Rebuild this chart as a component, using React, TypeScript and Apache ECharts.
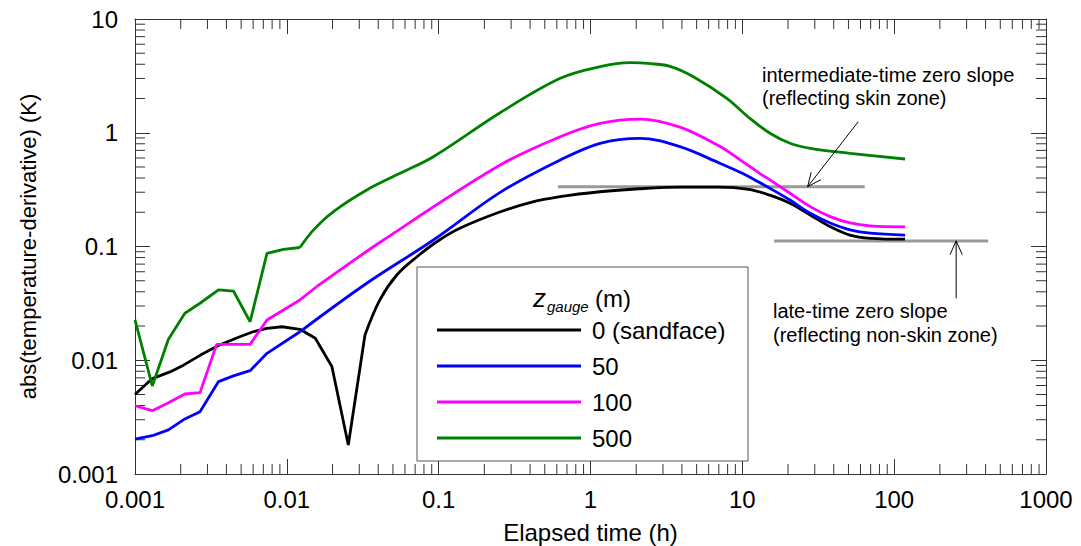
import React, { useEffect, useRef } from "react";
import * as echarts from "echarts";

// ---- data ----
const xTickLabels = ["0.001", "0.01", "0.1", "1", "10", "100", "1000"];
const yTickLabels = ["0.001", "0.01", "0.1", "1", "10"];
const seriesNames = ["0 (sandface)", "50", "100", "500"];

const t0 = [0.001, 0.0013, 0.0017, 0.0021, 0.0027, 0.0036, 0.0049, 0.006, 0.0074, 0.0093, 0.0122, 0.0154, 0.0198, 0.0254, 0.0327, 0.041, 0.053, 0.072, 0.1, 0.14, 0.25, 0.4, 0.63, 1.15, 2.1, 4, 7, 11, 15, 20.6, 28, 38, 51, 70, 118];
const v0 = [0.005, 0.0069, 0.0079, 0.0091, 0.0111, 0.0136, 0.0161, 0.0178, 0.0191, 0.0197, 0.0187, 0.0156, 0.0088, 0.0018, 0.0167, 0.0339, 0.0562, 0.0813, 0.113, 0.146, 0.2, 0.243, 0.274, 0.303, 0.322, 0.333, 0.333, 0.318, 0.284, 0.24, 0.189, 0.149, 0.126, 0.118, 0.116];

const t50 = [0.001, 0.0013, 0.00166, 0.00213, 0.00268, 0.00355, 0.00445, 0.00573, 0.0074, 0.0122, 0.0336, 0.0923, 0.254, 0.632, 1.156, 2.12, 3.88, 7.1, 10, 13, 15.2, 20.6, 28, 37.9, 51.3, 69.5, 118];
const v50 = [0.00203, 0.00217, 0.00244, 0.00305, 0.00353, 0.00649, 0.00728, 0.0081, 0.0115, 0.0178, 0.0475, 0.114, 0.299, 0.576, 0.808, 0.894, 0.755, 0.54, 0.44, 0.365, 0.325, 0.256, 0.196, 0.161, 0.14, 0.131, 0.126];

const t100 = [0.001, 0.0013, 0.00166, 0.00213, 0.00268, 0.00345, 0.00445, 0.00573, 0.0074, 0.0122, 0.0157, 0.0433, 0.254, 0.632, 1.156, 2.12, 3.88, 7.1, 10, 13, 15.2, 20.6, 28, 37.9, 51.3, 69.5, 118];
const v100 = [0.00398, 0.0036, 0.00424, 0.00505, 0.00519, 0.0138, 0.0138, 0.0138, 0.0226, 0.0339, 0.0443, 0.114, 0.52, 0.923, 1.21, 1.32, 1.12, 0.76, 0.56, 0.44, 0.385, 0.294, 0.224, 0.183, 0.161, 0.152, 0.149];

const t500 = [0.001, 0.0013, 0.00166, 0.00213, 0.00268, 0.00355, 0.00445, 0.00573, 0.0074, 0.0095, 0.0122, 0.015, 0.0202, 0.0336, 0.0557, 0.0923, 0.254, 0.632, 1.156, 1.82, 2.5, 3.38, 4.76, 7.9, 11.2, 15.2, 20.6, 28, 51.3, 118];
const v500 = [0.0226, 0.00594, 0.0153, 0.0259, 0.0317, 0.0415, 0.0406, 0.0218, 0.0871, 0.0944, 0.098, 0.14, 0.202, 0.314, 0.44, 0.616, 1.5, 3.01, 3.81, 4.13, 4.05, 3.82, 3.11, 2.01, 1.34, 0.99, 0.808, 0.73, 0.66, 0.588];

// time where each curve changes from the jagged early part to the smooth late part
const smoothFrom = [0.0327, 0.0122, 0.0157, 0.0122];

// zero-slope reference lines
const skinLine = [[0.61, 0.335], [64, 0.335]];
const nonSkinLine = [[16.2, 0.112], [416, 0.112]];
// arrows: [tailX, tailY, headX, headY]
const arrows = [
  [58, 1.25, 26.9, 0.335],
  [256, 0.035, 256, 0.112],
];

const X_MIN = 0.001, X_MAX = 1000, Y_MIN = 0.001, Y_MAX = 10;
const FONT = "'Liberation Sans', Arial, Helvetica, sans-serif";
const AXIS_COLOR = "#333";
const COLORS = ["#000000", "#0000ff", "#ff00ff", "#008000"];

const pair = (t: number[], v: number[]) => t.map((x, i) => [x, v[i]]);

const minorX: number[] = [];
for (let k = -3; k <= 2; k++) for (let m = 2; m <= 9; m++) minorX.push(m * Math.pow(10, k));
const minorY: number[] = [];
for (let k = -3; k <= 0; k++) for (let m = 2; m <= 9; m++) minorY.push(m * Math.pow(10, k));

const fmt = (labels: string[], minExp: number) => (v: number) => {
  const i = Math.round(Math.log10(v)) - minExp;
  return labels[i] ?? "";
};

export default function App() {
  const ref = useRef<HTMLDivElement>(null);
  useEffect(() => {
    if (!ref.current) return;
    const chart = echarts.init(ref.current, null, { renderer: "svg" });
    const curves = [pair(t0, v0), pair(t50, v50), pair(t100, v100), pair(t500, v500)];
    const curveSeries: any[] = [];
    curves.forEach((pts, i) => {
      const split = smoothFrom[i];
      const early = pts.filter((p) => p[0] <= split);
      const late = pts.filter((p) => p[0] >= split);
      const base = {
        name: seriesNames[i],
        type: "line",
        symbol: "none",
        showSymbol: false,
        lineStyle: { color: COLORS[i], width: 2.8 },
        itemStyle: { color: COLORS[i] },
        z: 3,
      };
      curveSeries.push({ ...base, data: early, smooth: false });
      curveSeries.push({ ...base, data: late, smooth: 0.35 });
    });
    const option: any = {
      animation: false,
      grid: { left: 135, right: 35, top: 19, bottom: 72, containLabel: false, outerBoundsMode: "none" },
      xAxis: [
        {
          type: "log",
          logBase: 10,
          min: X_MIN,
          max: X_MAX,
          name: "Elapsed time (h)",
          nameLocation: "middle",
          nameGap: 46,
          nameTextStyle: { fontFamily: FONT, fontSize: 24, color: "#000" },
          axisLine: { lineStyle: { color: AXIS_COLOR, width: 1 } },
          axisTick: { inside: true, length: 15, lineStyle: { color: AXIS_COLOR } },
          axisLabel: { formatter: fmt(xTickLabels, -3), fontFamily: FONT, fontSize: 24, color: "#000", margin: 13 },
          splitLine: { show: false },
        },
        {
          type: "log",
          logBase: 10,
          min: X_MIN,
          max: X_MAX,
          position: "top",
          axisLine: { show: true, lineStyle: { color: AXIS_COLOR, width: 1 } },
          axisTick: { show: true, inside: true, length: 15, lineStyle: { color: AXIS_COLOR } },
          axisLabel: { show: false },
          splitLine: { show: false },
        },
      ],
      yAxis: [
        {
          type: "log",
          logBase: 10,
          min: Y_MIN,
          max: Y_MAX,
          name: "abs(temperature-derivative) (K)",
          nameLocation: "middle",
          nameGap: 96,
          nameTextStyle: { fontFamily: FONT, fontSize: 22, color: "#000" },
          axisLine: { lineStyle: { color: AXIS_COLOR, width: 1 } },
          axisTick: { inside: true, length: 15, lineStyle: { color: AXIS_COLOR } },
          axisLabel: { formatter: fmt(yTickLabels, -3), fontFamily: FONT, fontSize: 24, color: "#000", margin: 17 },
          splitLine: { show: false },
        },
        {
          type: "log",
          logBase: 10,
          min: Y_MIN,
          max: Y_MAX,
          position: "right",
          axisLine: { show: true, lineStyle: { color: AXIS_COLOR, width: 1 } },
          axisTick: { show: true, inside: true, length: 15, lineStyle: { color: AXIS_COLOR } },
          axisLabel: { show: false },
          splitLine: { show: false },
        },
      ],
      legend: {
        data: seriesNames,
        orient: "vertical",
        left: 432,
        top: 313,
        icon: "rect",
        itemWidth: 144,
        itemHeight: 3,
        itemGap: 12,
        selectedMode: false,
        textStyle: { fontFamily: FONT, fontSize: 24, color: "#000", padding: [0, 0, 0, 6] },
        z: 10,
      },
      graphic: [
        {
          type: "rect",
          shape: { x: 417, y: 267, width: 331, height: 194 },
          style: { fill: "#fff", stroke: "#555", lineWidth: 1 },
          z: 5,
        },
        { type: "text", x: 533, y: 298, z: 11, style: { text: "z", font: `italic 26px ${FONT}`, fill: "#000", verticalAlign: "middle" } },
        { type: "text", x: 547, y: 306, z: 11, style: { text: "gauge", font: `italic 15px ${FONT}`, fill: "#000", verticalAlign: "middle" } },
        { type: "text", x: 595, y: 298, z: 11, style: { text: "(m)", font: `24px ${FONT}`, fill: "#000", verticalAlign: "middle" } },
        {
          type: "text", x: 762, y: 63, z: 11,
          style: { text: "intermediate-time zero slope\n(reflecting skin zone)", font: `20px ${FONT}`, fill: "#000", lineHeight: 23 },
        },
        {
          type: "text", x: 773, y: 299, z: 11,
          style: { text: "late-time zero slope\n(reflecting non-skin zone)", font: `20px ${FONT}`, fill: "#000", lineHeight: 24 },
        },
      ],
      series: [
        {
          name: "skin",
          type: "line",
          data: skinLine,
          symbol: "none",
          lineStyle: { color: "#999", width: 3 },
          z: 2,
        },
        {
          name: "nonskin",
          type: "line",
          data: nonSkinLine,
          symbol: "none",
          lineStyle: { color: "#999", width: 3 },
          z: 2,
        },
        ...curveSeries,
        {
          type: "custom",
          name: "arrows",
          data: arrows,
          encode: { x: [0, 2], y: [1, 3] },
          clip: false,
          z: 4,
          renderItem: (_p: any, api: any) => {
            const a = api.coord([api.value(0), api.value(1)]);
            const b = api.coord([api.value(2), api.value(3)]);
            const ang = Math.atan2(b[1] - a[1], b[0] - a[0]);
            const L = 15, phi = (24 * Math.PI) / 180;
            const arm = (s: number) => [b[0] - L * Math.cos(ang + s * phi), b[1] - L * Math.sin(ang + s * phi)];
            const p1 = arm(1), p2 = arm(-1);
            const st = { stroke: "#000", lineWidth: 1, fill: "none" };
            return {
              type: "group",
              children: [
                { type: "line", shape: { x1: a[0], y1: a[1], x2: b[0], y2: b[1] }, style: st },
                { type: "polyline", shape: { points: [p1, b, p2] }, style: st },
              ],
            };
          },
        },
        {
          type: "custom",
          name: "minorX",
          data: minorX.map((v) => [v, 1]),
          clip: false,
          silent: true,
          z: 1,
          renderItem: (_p: any, api: any) => {
            const v = api.value(0);
            const b = api.coord([v, Y_MIN]);
            const t = api.coord([v, Y_MAX]);
            const st = { stroke: AXIS_COLOR, lineWidth: 1 };
            return {
              type: "group",
              children: [
                { type: "line", shape: { x1: b[0], y1: b[1], x2: b[0], y2: b[1] - 10 }, style: st },
                { type: "line", shape: { x1: t[0], y1: t[1], x2: t[0], y2: t[1] + 10 }, style: st },
              ],
            };
          },
        },
        {
          type: "custom",
          name: "minorY",
          data: minorY.map((v) => [1, v]),
          clip: false,
          silent: true,
          z: 1,
          renderItem: (_p: any, api: any) => {
            const v = api.value(1);
            const l = api.coord([X_MIN, v]);
            const r = api.coord([X_MAX, v]);
            const st = { stroke: AXIS_COLOR, lineWidth: 1 };
            return {
              type: "group",
              children: [
                { type: "line", shape: { x1: l[0], y1: l[1], x2: l[0] + 10, y2: l[1] }, style: st },
                { type: "line", shape: { x1: r[0], y1: r[1], x2: r[0] - 10, y2: r[1] }, style: st },
              ],
            };
          },
        },
      ],
    };
    chart.setOption(option);
    return () => chart.dispose();
  }, []);
  return (
    <div
      ref={ref}
      style={{ position: "fixed", left: 0, top: 0, width: 1081, height: 546, background: "#fff" }}
    />
  );
}
